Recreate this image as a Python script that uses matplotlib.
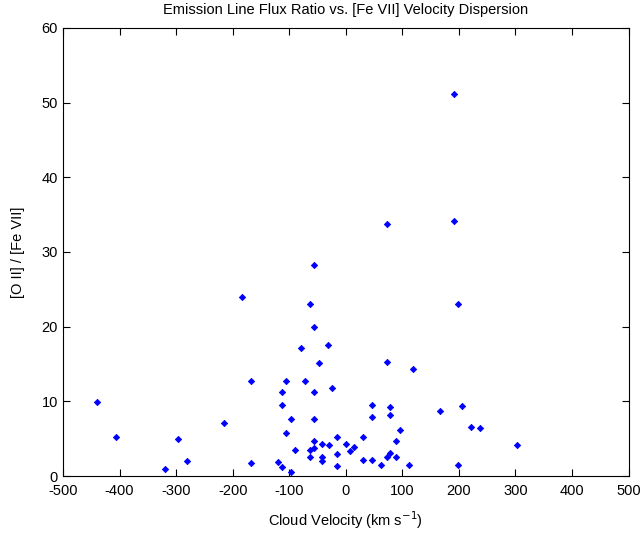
import matplotlib
matplotlib.use("Agg")
import matplotlib.pyplot as plt

plt.rcParams['font.family'] = ['Liberation Sans', 'DejaVu Sans']
plt.rcParams['axes.unicode_minus'] = False

# cloud velocity (km/s) and [O II]/[Fe VII] ratio
vel = [-440, -407, -319, -296, -281, -216, -167, -167, -184,
       -80, -32, -48, 72, 118, -105, -73, -112, -57, -25,
       -112, 46, 79, -96, -57, 46, 79, 166, -105, 95,
       -57, -15, 30, 88, -42, -30, 1, 14, 7, -89, -64, -57,
       -15, 79, -64, -42, -42, 72, 88, 30, 46, 63, -15, 111,
       -119, -112, -96,
       72, -57, -64, -57,
       192, 192, 199, 205, 222, 238, 302, 199]
ratio = [9.9, 5.2, 1.0, 5.0, 2.0, 7.1, 12.7, 1.7, 24.0,
         17.1, 17.5, 15.2, 15.3, 14.3, 12.7, 12.7, 11.2, 11.3, 11.8,
         9.5, 9.5, 9.2, 7.6, 7.6, 7.9, 8.2, 8.7, 5.7, 6.1,
         4.7, 5.2, 5.2, 4.7, 4.3, 4.1, 4.3, 3.9, 3.4, 3.5, 3.5, 3.7,
         3.0, 3.1, 2.5, 2.5, 2.0, 2.5, 2.5, 2.2, 2.2, 1.5, 1.3, 1.5,
         1.9, 1.2, 0.6,
         33.7, 28.3, 23.0, 20.0,
         51.2, 34.2, 23.0, 9.4, 6.6, 6.4, 4.2, 1.5]

xticks = [-500, -400, -300, -200, -100, 0, 100, 200, 300, 400, 500]
yticks = [0, 10, 20, 30, 40, 50, 60]

fig = plt.figure(figsize=(6.4, 5.34), dpi=100)
ax = fig.add_axes([0.0984, 0.1086, 0.8838, 0.839])
ax.plot(vel, ratio, 'D', color='#0000ff', markersize=3.2, markeredgewidth=0.6)

ax.set_xlim(-500, 500)
ax.set_ylim(0, 60)
ax.set_xticks(xticks)
ax.set_yticks(yticks)
ax.tick_params(direction='in', top=True, right=True, length=5, labelsize=10.5, width=0.8)
ax.tick_params(axis='x', pad=6)
for s in ax.spines.values():
    s.set_linewidth(0.8)

ax.set_title('Emission Line Flux Ratio vs. [Fe VII] Velocity Dispersion', fontsize=10.5, pad=10)
ax.set_xlabel('Cloud Velocity (km s$^{-1}$)', fontsize=10.5, labelpad=8)
ax.set_ylabel('[O II] / [Fe VII]', fontsize=10.5, labelpad=12)

fig.savefig('out.png', dpi=100)
